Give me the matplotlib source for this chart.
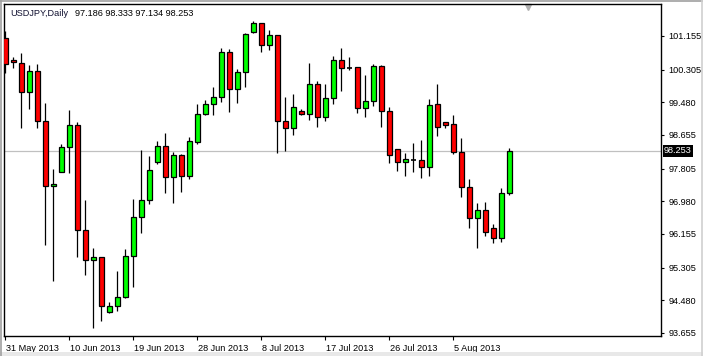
import numpy as np
import matplotlib
matplotlib.use("Agg")
from matplotlib import pyplot as plt
from matplotlib import transforms as mtransforms

# daily candles, 31 May 2013 .. 13 Aug 2013 (sunday bars included)
opens = [101.097, 100.549, 100.466, 99.733, 100.271, 99.001, 97.360, 97.728,
         98.344, 98.900, 96.256, 95.491, 95.567, 94.178, 94.337, 94.557,
         95.592, 96.577, 97.006, 97.961, 98.377, 97.602, 98.150, 97.627,
         98.486, 99.185, 99.430, 99.607, 100.743, 99.809, 100.238, 101.248,
         101.476, 100.920, 101.173, 99.001, 98.824, 99.253, 99.178, 99.935,
         99.102, 99.582, 100.541, 100.355, 100.365, 99.329, 99.506, 100.390,
         99.253, 98.294, 97.966, 98.024, 98.016, 97.839, 99.430, 98.976,
         98.925, 98.233, 97.334, 96.552, 96.753, 96.299, 96.047, 97.186]
highs = [101.281, 100.632, 100.733, 100.423, 100.448, 99.471, 97.797, 98.428,
         99.286, 98.983, 97.014, 95.794, 95.580, 94.431, 95.221, 95.777,
         97.039, 98.276, 98.125, 98.491, 98.706, 98.226, 98.175, 98.612,
         99.438, 99.539, 99.860, 100.844, 100.819, 100.314, 101.223, 101.534,
         101.490, 101.306, 101.180, 99.615, 99.683, 99.304, 100.473, 100.019,
         99.943, 100.650, 100.844, 100.617, 100.380, 100.170, 100.448, 100.415,
         99.362, 98.302, 98.193, 98.453, 98.529, 99.564, 99.943, 98.983,
         99.160, 98.587, 97.544, 96.946, 96.971, 96.408, 97.309, 98.333]
lows = [100.213, 100.355, 98.839, 99.319, 98.839, 95.878, 94.976, 97.710,
        97.703, 95.582, 95.128, 93.774, 93.966, 94.160, 94.218, 94.532,
        94.825, 96.188, 96.905, 97.928, 97.198, 96.946, 97.223, 97.544,
        98.428, 99.168, 99.160, 99.496, 99.243, 99.471, 99.875, 101.230,
        100.759, 100.801, 98.208, 98.251, 98.655, 99.153, 99.034, 98.865,
        99.016, 99.438, 99.774, 100.296, 99.218, 99.117, 99.387, 98.865,
        97.940, 97.754, 97.627, 97.728, 97.577, 97.627, 98.637, 98.839,
        98.175, 97.097, 96.314, 95.794, 96.112, 95.920, 95.961, 97.134]
closes = [100.448, 100.491, 99.733, 100.271, 99.001, 97.360, 97.418, 98.352,
          98.900, 96.256, 95.499, 95.567, 94.337, 94.337, 94.564, 95.592,
          96.577, 97.006, 97.764, 98.377, 97.602, 98.150, 97.627, 98.496,
          99.178, 99.430, 99.607, 100.743, 99.809, 100.238, 101.198, 101.476,
          100.920, 101.173, 99.001, 98.824, 99.355, 99.193, 99.935, 99.102,
          99.582, 100.541, 100.339, 100.355, 99.329, 99.514, 100.390, 99.253,
          98.142, 97.966, 98.042, 98.024, 97.839, 99.405, 98.850, 98.915,
          98.233, 97.334, 96.552, 96.753, 96.198, 96.047, 97.183, 98.253]

price_ticks = [101.155, 100.305, 99.480, 98.655, 97.805, 96.980, 96.155, 95.305, 94.480, 93.655]
date_labels = ["31 May 2013", "10 Jun 2013", "19 Jun 2013", "28 Jun 2013",
               "8 Jul 2013", "17 Jul 2013", "26 Jul 2013", "5 Aug 2013"]
date_step = 8

symbol = "USDJPY,Daily"

W, H = 703, 356
fig = plt.figure(figsize=(W / 100, H / 100), dpi=100)
fig.patch.set_facecolor("white")
plt.rcParams['font.family'] = ['Liberation Sans', 'DejaVu Sans']
fs = 6.6

# plot frame in pixels
L, R, T, B = 4, 661, 4, 336
ax = fig.add_axes([L / W, (H - B) / H, (R - L) / W, (B - T) / H])
ax.set_facecolor("white")

n = len(opens)
x = np.arange(n)
o = np.array(opens); h = np.array(highs); l = np.array(lows); c = np.array(closes)

ax.axhline(closes[-1], color="#c0c0c0", lw=0.9, zorder=1)

ax.vlines(x, l, h, color="black", lw=0.9, zorder=2)
up = c > o
dn = c < o
eq = c == o
ax.bar(x[up], (c - o)[up], bottom=o[up], width=0.6, color="#00ff00",
       edgecolor="black", linewidth=0.9, zorder=3)
ax.bar(x[dn], (o - c)[dn], bottom=c[dn], width=0.6, color="#ff0000",
       edgecolor="black", linewidth=0.9, zorder=3)
ax.hlines(o[eq], x[eq] - 0.3, x[eq] + 0.3, color="black", lw=1.2, zorder=3)

px_per_bar = 8
ax.set_xlim(-1.3 / px_per_bar, (R - L - 1.3) / px_per_bar)
px_per_unit = 39.6
ax.set_ylim(price_ticks[0] - (B - 36) / px_per_unit, price_ticks[0] + (36 - T) / px_per_unit)

ax.yaxis.tick_right()
ax.set_yticks(price_ticks)
ax.set_yticklabels(["%.3f" % v for v in price_ticks])
ax.tick_params(axis="y", length=2.5, width=0.8, pad=3, labelsize=fs, colors="black")

ax.set_xticks(np.arange(len(date_labels)) * date_step)
ax.set_xticklabels(date_labels)
for t in ax.get_xticklabels():
    t.set_horizontalalignment("left")
ax.tick_params(axis="x", length=3, width=0.8, pad=2.5, labelsize=fs, colors="black")
off = mtransforms.ScaledTranslation(1 / 100, 0, fig.dpi_scale_trans)
for t in ax.get_xticklabels():
    t.set_transform(t.get_transform() + off)

for s in ax.spines.values():
    s.set_linewidth(1.0)
    s.set_color("black")

# header text
ax.text(6 / (R - L), 1 - 9 / (B - T), symbol, transform=ax.transAxes,
        fontsize=fs, color="#101030", va="center", ha="left")
ax.text(71 / (R - L), 1 - 9 / (B - T),
        "%.3f %.3f %.3f %.3f" % (opens[-1], highs[-1], lows[-1], closes[-1]),
        transform=ax.transAxes, fontsize=fs, color="black", va="center", ha="left")

# current price tag
tr = mtransforms.blended_transform_factory(ax.transAxes, ax.transData)
ax.text(1 + 3 / (R - L), closes[-1], "%.3f" % closes[-1], transform=tr,
        fontsize=fs, color="white", va="center", ha="left", clip_on=False,
        bbox=dict(boxstyle="square,pad=0.12", fc="black", ec="none"))

# chart shift marker
ax.plot([(528 - L) / (R - L)], [1 - 3 / (B - T)], marker="v", ms=5,
        color="#b0b0b0", transform=ax.transAxes, clip_on=False)

# window border
fig.add_artist(plt.Rectangle((0, 0), 1, 4 / H, transform=fig.transFigure,
                             fc="#e8e8e8", ec="none"))
fig.add_artist(plt.Line2D([0.5 / W, 0.5 / W], [0, 1], color="#a0a0a0", lw=1.2))
fig.add_artist(plt.Line2D([0, 1], [1 - 0.5 / H, 1 - 0.5 / H], color="#a0a0a0", lw=1.2))
fig.add_artist(plt.Line2D([1 - 1.5 / W, 1 - 1.5 / W], [0, 1], color="#d0d0d0", lw=1.2))

fig.savefig("out.png", dpi=100)
